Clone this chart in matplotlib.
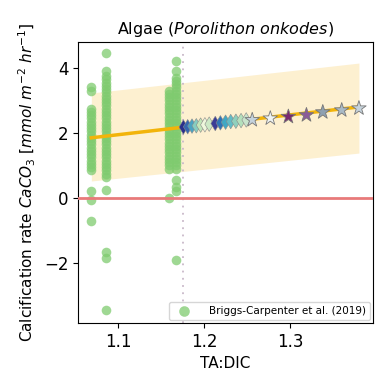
import numpy as np
import matplotlib.pyplot as plt

# field measurements (Briggs-Carpenter et al. 2019), one list per TA:DIC level
bc_x1 = 1.069
bc_y1 = [0.85, 0.95, 1.05, 1.15, 1.25, 1.35, 1.45, 1.55, 1.65, 1.75, 1.85, 1.95,
         2.05, 2.15, 2.25, 2.35, 2.45, 2.55, 2.65, 2.75, 3.3, 3.4, 0.2, -0.05, -0.7]
bc_x2 = 1.086
bc_y2 = [0.65, 0.75, 0.85, 0.95, 1.05, 1.15, 1.25, 1.35, 1.45, 1.55, 1.65, 1.75,
         1.85, 1.95, 2.05, 2.15, 2.25, 2.35, 2.45, 2.55, 2.65, 2.75, 2.85, 2.95,
         3.05, 3.15, 3.25, 3.35, 3.45, 3.55, 3.65, 3.75, 3.9, 4.45, 0.25, -1.65,
         -1.85, -3.45]
bc_x3 = 1.159
bc_y3 = [0.9, 1.0, 1.1, 1.2, 1.3, 1.4, 1.5, 1.6, 1.7, 1.8, 1.9, 2.0, 2.1, 2.2,
         2.3, 2.4, 2.5, 2.6, 2.7, 2.8, 2.9, 3.0, 3.1, 3.2, 3.3, 0.0]
bc_x4 = 1.167
bc_y4 = [0.9, 1.0, 1.1, 1.2, 1.3, 1.4, 1.5, 1.6, 1.7, 1.8, 1.9, 2.0, 2.1, 2.2,
         2.3, 2.4, 2.5, 2.6, 2.7, 2.8, 2.9, 3.0, 3.1, 3.2, 3.3, 3.4, 3.5, 3.6,
         3.7, 3.9, 4.2, 0.55, 0.35, 0.2, -1.9]

# regression line and prediction band
fit_x = [1.069, 1.38]
fit_y = [1.85, 2.80]
band_lo = [0.52, 1.38]
band_hi = [3.23, 4.15]

current_tadic = 1.175

# scenario projections
dia_x = [1.176, 1.181, 1.186, 1.191, 1.196, 1.201, 1.206,
         1.213, 1.219, 1.225, 1.231, 1.237, 1.243, 1.249]
dia_y = [2.18, 2.19, 2.21, 2.22, 2.24, 2.25, 2.27,
         2.29, 2.31, 2.33, 2.35, 2.36, 2.38, 2.40]
dia_c = ['#2a2f8c', '#3566b0', '#4aa3c2', '#86cdc0', '#c2e6b8', '#eef7dc', '#cde9c6',
         '#3a3c96', '#2f74b6', '#3fa8c4', '#62bcc6', '#8fd0bd', '#b4e0bc', '#c8e4cc']
star_x = [1.256, 1.277, 1.298, 1.319, 1.338, 1.360, 1.380]
star_y = [2.40, 2.45, 2.50, 2.55, 2.64, 2.70, 2.76]
star_c = ['#c4d2dc', '#eef3f3', '#7a2a70', '#8c5c98', '#8ea0b0', '#a9bac6', '#c6d3dc']

fig = plt.figure(figsize=(3.75, 3.92), dpi=100)
ax = fig.add_axes([0.208, 0.176, 0.787, 0.717])

ax.fill_between(fit_x, band_lo, band_hi, color='#fce8b8', alpha=0.65, lw=0, zorder=1)
ax.axvline(current_tadic, color='#c9b9c9', ls=(0, (1, 3)), lw=1.3, zorder=1)

green = '#7fcb6f'
kw = dict(s=48, color=green, alpha=0.75, lw=0, zorder=2)
ax.scatter([bc_x1] * len(bc_y1), bc_y1, label='Briggs-Carpenter et al. (2019)', **kw)
ax.scatter([bc_x2] * len(bc_y2), bc_y2, **kw)
ax.scatter([bc_x3] * len(bc_y3), bc_y3, **kw)
ax.scatter([bc_x4] * len(bc_y4), bc_y4, **kw)

ax.axhline(0, color='#e87a7a', lw=2, zorder=3)
ax.plot(fit_x, fit_y, color='#f2b40a', lw=2.5, zorder=3)

ax.scatter(dia_x, dia_y, marker='d', s=55, c=dia_c, edgecolors='#8a8a8a', lw=0.4, zorder=4)
ax.scatter(star_x, star_y, marker='*', s=120, c=star_c, edgecolors='#777777', lw=0.6, zorder=4)

ax.set_xlim(1.0535, 1.3965)
ax.set_ylim(-3.85, 4.8)
ax.set_xticks([1.1, 1.2, 1.3])
ax.set_yticks([-2, 0, 2, 4])
ax.tick_params(labelsize=12)

ax.set_title(r'Algae ($\it{Porolithon\ onkodes}$)', fontsize=11.5)
ax.set_xlabel('TA:DIC', fontsize=11)
ax.set_ylabel(r'Calcification rate $CaCO_3$ [$mmol\ m^{-2}\ hr^{-1}$]', fontsize=11)

ax.legend(loc='lower right', fontsize=7.5, handletextpad=1.4, borderpad=0.4,
          markerscale=1.1, borderaxespad=0.3)

fig.savefig('out.png')
